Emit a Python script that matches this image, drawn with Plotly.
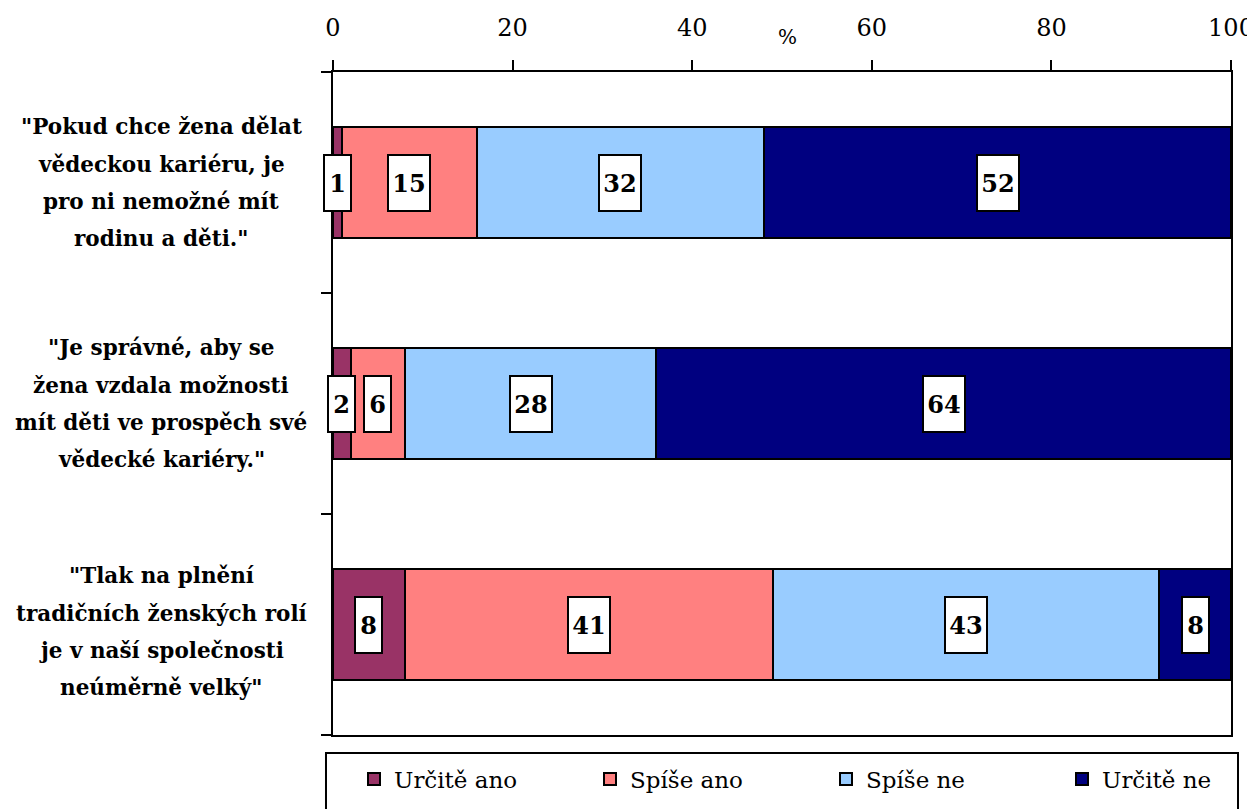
import plotly.graph_objects as go

statements = [
    ['"Pokud chce žena dělat', 'vědeckou kariéru, je', 'pro ni nemožné mít', 'rodinu a děti."'],
    ['"Je správné, aby se', 'žena vzdala možnosti', 'mít děti ve prospěch své', 'vědecké kariéry."'],
    ['"Tlak na plnění', 'tradičních ženských rolí', 'je v naší společnosti', 'neúměrně velký"'],
]
series_names = ["Určitě ano", "Spíše ano", "Spíše ne", "Určitě ne"]
urcite_ano = [1, 2, 8]
spise_ano = [15, 6, 41]
spise_ne = [32, 28, 43]
urcite_ne = [52, 64, 8]
x_ticks = [0, 20, 40, 60, 80, 100]

series_values = [urcite_ano, spise_ano, spise_ne, urcite_ne]
colors = ["#993366", "#FF8080", "#99CCFF", "#000080"]
FONT = "DejaVu Serif"
rows = list(range(len(statements)))

fig = go.Figure()
for name, vals, col in zip(series_names, series_values, colors):
    fig.add_trace(go.Bar(
        y=rows, x=vals, name=name, orientation="h", width=0.5,
        marker=dict(color=col, line=dict(color="black", width=2)),
    ))

annotations = []
line_offsets = [56, 18, -19, -56]
row_shift = [0, 0, -7]
for r in rows:
    cum = 0
    for vals in series_values:
        v = vals[r]
        txt = str(v)
        annotations.append(dict(
            x=cum + v / 2, y=r, xref="x", yref="y", text="<b>%s</b>" % txt,
            showarrow=False, font=dict(family=FONT, size=24, color="black"),
            bgcolor="white", bordercolor="black", borderwidth=2, borderpad=0,
            width=15 * len(txt) + 10, height=54,
        ))
        cum += v
    for li, line in enumerate(statements[r]):
        annotations.append(dict(
            x=-0.1915, y=r, xref="paper", yref="y", text="<b>%s</b>" % line,
            showarrow=False, xanchor="center", yanchor="middle", align="center",
            yshift=line_offsets[li] + row_shift[r],
            font=dict(family=FONT, size=21.5, color="black"),
        ))

annotations.append(dict(
    x=0.5056, y=1.0528, xref="paper", yref="paper", text="%", showarrow=False,
    xanchor="center", yanchor="middle",
    font=dict(family=FONT, size=20, color="black"),
))

# the page places the figure 8px from the top-left corner
fig.update_layout(
    barmode="stack",
    width=1247, height=801,
    margin=dict(l=325, r=24, t=64, b=74, autoexpand=False),
    paper_bgcolor="white", plot_bgcolor="white",
    font=dict(family=FONT, color="black"),
    annotations=annotations,
    showlegend=True,
    legend=dict(
        orientation="h", x=-0.0078, y=-0.034, xanchor="left", yanchor="top",
        borderwidth=0, bgcolor="rgba(0,0,0,0)",
        font=dict(family=FONT, size=23, color="black"),
        entrywidth=163, entrywidthmode="pixels", indentation=28,
        traceorder="normal",
    ),
    shapes=[dict(
        type="rect", xref="paper", yref="paper",
        x0=-0.0078, x1=1.0078, y0=-0.0271, y1=-0.2,
        line=dict(color="black", width=2), fillcolor="rgba(0,0,0,0)", layer="below",
    )],
)
fig.update_xaxes(
    side="top", range=[0, 100], tickvals=x_ticks, ticks="outside", ticklen=10,
    tickwidth=2, tickcolor="black", showline=True, linecolor="black", linewidth=2,
    mirror=True, showgrid=False, zeroline=False, ticklabeloverflow="allow",
    tickfont=dict(family=FONT, size=24, color="black"), ticklabelstandoff=14,
)
fig.update_yaxes(
    range=[2.5, -0.5], tickvals=[-0.5, 0.5, 1.5, 2.5], ticktext=["", "", "", ""],
    ticks="outside", ticklen=10, tickwidth=2, tickcolor="black",
    showline=True, linecolor="black", linewidth=2, mirror=True,
    showgrid=False, zeroline=False,
)

fig.write_html("out.html")
